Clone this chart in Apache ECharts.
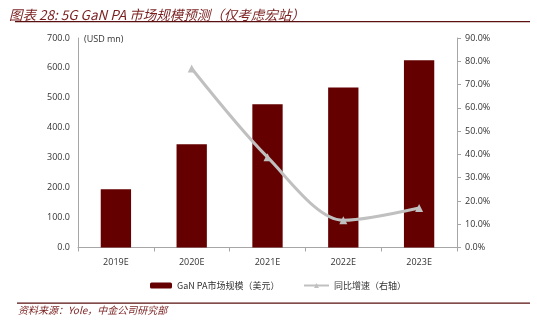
<!DOCTYPE html>
<html><head><meta charset="utf-8">
<script src="https://cdn.jsdelivr.net/npm/echarts@6/dist/echarts.min.js"></script>
<style>html,body{margin:0;padding:0;background:#fff}#c{width:537px;height:327px}</style>
</head><body><div id="c"></div>
<script>
var categories = ['2019E', '2020E', '2021E', '2022E', '2023E'];
var marketSize = [195, 345, 479, 535, 626];
var yoyGrowth = [null, 76.9, 38.8, 11.7, 17.0];
var leftTicks = [0, 700, 100];
var rightTicks = [0, 90, 10];
var barName = 'GaN PA市场规模（美元）';
var lineName = '同比增速（右轴）';

var chart = echarts.init(document.getElementById('c'));
var cjk = '"Noto Sans CJK SC", "Open Sans", sans-serif';
var axisColor = '#a6a6a6';
chart.setOption({
  animation: false,
  title: {
    text: '图表 28: 5G GaN PA 市场规模预测（仅考虑宏站）',
    left: 4, top: 3,
    textStyle: { fontFamily: cjk, fontSize: 13.5, fontStyle: 'italic', fontWeight: 'normal', color: '#7a1f1f' }
  },
  graphic: [
    { type: 'rect', shape: { x: 15, y: 21, width: 515, height: 1.3 }, style: { fill: '#5a1010' }, z: 100 },
    { type: 'rect', shape: { x: 17, y: 302.5, width: 513, height: 1.3 }, style: { fill: '#5a1010' }, z: 100 },
    { type: 'text', x: 18, y: 305, style: { text: '资料来源：Yole，中金公司研究部', font: 'italic 10px ' + cjk, fill: '#7a1f1f' } },
    { type: 'text', x: 84, y: 35, style: { text: '(USD mn)', font: '9px "Open Sans", sans-serif', fill: '#333' } }
  ],
  legend: [
    { data: [barName], left: 145, top: 276, itemWidth: 22, itemHeight: 6, itemGap: 4,
      textStyle: { fontFamily: cjk, fontSize: 9, color: '#333' } },
    { data: [lineName], left: 298, top: 276, itemWidth: 25, itemHeight: 6,
      textStyle: { fontFamily: cjk, fontSize: 9, color: '#333' } }
  ],
  grid: { left: 78, right: 80, top: 38, bottom: 79.5 },
  xAxis: {
    type: 'category', data: categories,
    axisLine: { lineStyle: { color: axisColor } },
    axisTick: { show: true, alignWithLabel: false, length: 4, lineStyle: { color: axisColor } },
    axisLabel: { fontFamily: '"Open Sans", sans-serif', fontSize: 9, color: '#333', margin: 10 }
  },
  yAxis: [
    { type: 'value', min: leftTicks[0], max: leftTicks[1], interval: leftTicks[2],
      axisLine: { show: true, lineStyle: { color: axisColor } },
      axisTick: { show: false }, splitLine: { show: false },
      axisLabel: { fontFamily: '"Open Sans", sans-serif', fontSize: 9, color: '#333', margin: 8,
        formatter: function (v) { return v.toFixed(1); } } },
    { type: 'value', min: rightTicks[0], max: rightTicks[1], interval: rightTicks[2], position: 'right',
      axisLine: { show: true, lineStyle: { color: axisColor } },
      axisTick: { show: true, length: 4, lineStyle: { color: axisColor } }, splitLine: { show: false },
      axisLabel: { fontFamily: '"Open Sans", sans-serif', fontSize: 9, color: '#333', margin: 8,
        formatter: function (v) { return v.toFixed(1) + '%'; } } }
  ],
  series: [
    { name: barName, type: 'bar', data: marketSize, barWidth: '40%',
      itemStyle: { color: '#650000' } },
    { name: lineName, type: 'line', yAxisIndex: 1, data: yoyGrowth, smooth: 0.3,
      symbol: 'triangle', symbolSize: 8,
      lineStyle: { color: '#c0c0c0', width: 3 }, itemStyle: { color: '#c0c0c0' } }
  ]
});
</script></body></html>
